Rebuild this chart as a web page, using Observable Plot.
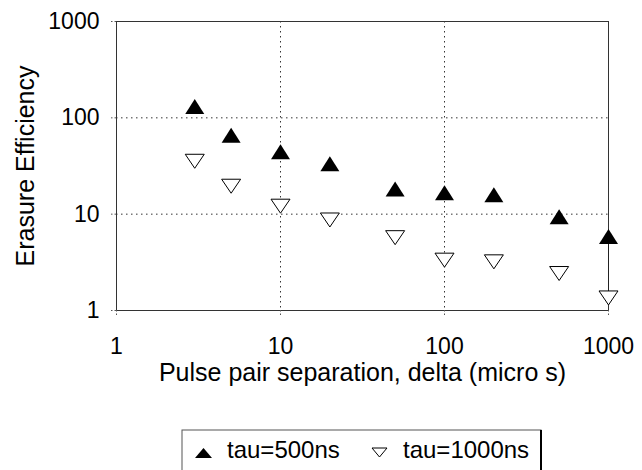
<!DOCTYPE html>
<html>
<head>
<meta charset="utf-8">
<script src="https://cdn.jsdelivr.net/npm/d3@7"></script>
<script src="https://cdn.jsdelivr.net/npm/@observablehq/plot@0.6"></script>
<style>
  html, body { margin: 0; padding: 0; background: white; }
  #chart { width: 642px; height: 470px; overflow: hidden; }
</style>
</head>
<body>
<div id="chart"></div>
<script>
// ---- data ----
const delta = [3, 5, 10, 20, 50, 100, 200, 500, 1000];
const eff500 = [131, 66, 44.5, 33.3, 18.2, 16.7, 15.9, 9.4, 5.85];
const eff1000 = [35.4, 19.5, 12.1, 8.7, 5.7, 3.33, 3.2, 2.42, 1.35];
const seriesNames = ["tau=500ns", "tau=1000ns"];
const xTicks = [1, 10, 100, 1000];
const yTicks = [1, 10, 100, 1000];
const xGrid = [10, 100];
const yGrid = [10, 100];
const xLabel = "Pulse pair separation, delta (micro s)";
const yLabel = "Erasure Efficiency";

const data500 = delta.map((d, i) => ({delta: d, eff: eff500[i]}));
const data1000 = delta.map((d, i) => ({delta: d, eff: eff1000[i]}));
const lastPair = [{delta: delta[delta.length - 1], y1: eff500[eff500.length - 1], y2: eff1000[eff1000.length - 1]}];

function triangle(w, h, down) {
  return {
    draw(context) {
      const s = down ? -1 : 1;
      context.moveTo(0, -s * h / 2);
      context.lineTo(w / 2, s * h / 2);
      context.lineTo(-w / 2, s * h / 2);
      context.closePath();
    }
  };
}

const font = "'Liberation Sans', Arial, Helvetica, sans-serif";
const dotted = "1.5,3.5";

const plot = Plot.plot({
  width: 642,
  height: 470,
  marginLeft: 116,
  marginRight: 34,
  marginTop: 21,
  marginBottom: 160,
  style: {fontFamily: font, background: "white", color: "black", overflow: "visible"},
  x: {type: "log", domain: [1, 1000]},
  y: {type: "log", domain: [1, 1000]},
  marks: [
    Plot.ruleX(xGrid, {stroke: "#333", strokeDasharray: dotted, strokeWidth: 1}),
    Plot.ruleY(yGrid, {stroke: "#333", strokeDasharray: dotted, strokeWidth: 1}),
    Plot.frame({stroke: "#333", strokeWidth: 1}),
    Plot.axisX(xTicks, {tickSize: 6, tickPadding: 21, tickFormat: d => String(d), fontSize: 23, label: null, stroke: "#555", strokeDasharray: "1.5,2"}),
    Plot.axisY(yTicks, {tickSize: 5, tickPadding: 12, tickFormat: d => String(d), fontSize: 23, label: null, stroke: "#555", strokeDasharray: "1.5,2"}),
    Plot.text([xLabel], {frameAnchor: "bottom", dy: 70, lineAnchor: "bottom", textAnchor: "middle", fontSize: 25}),
    Plot.text([yLabel], {frameAnchor: "left", dx: -83, rotate: -90, lineAnchor: "bottom", textAnchor: "middle", fontSize: 25}),
    Plot.ruleX(lastPair, {x: "delta", y1: "y1", y2: "y2", stroke: "#222", strokeWidth: 1}),
    Plot.dot(data500, {x: "delta", y: "eff", symbol: triangle(19, 15, false), fill: "black", stroke: "none"}),
    Plot.dot(data1000, {x: "delta", y: "eff", symbol: triangle(19, 14, true), fill: "white", stroke: "black", strokeWidth: 1})
  ]
});

document.getElementById("chart").appendChild(plot);

// ---- legend (below the plot, inside the same svg) ----
const svg = d3.select(plot);
const lg = svg.append("g").attr("font-family", font).attr("font-size", 24).attr("text-anchor", "start");
lg.append("rect").attr("x", 182).attr("y", 430).attr("width", 359).attr("height", 70)
  .attr("fill", "white").attr("stroke", "#555").attr("stroke-width", 1);
lg.append("line").attr("x1", 541).attr("x2", 541).attr("y1", 430).attr("y2", 472)
  .attr("stroke", "black").attr("stroke-width", 2);
const path = (cx, cy, w, h, down) => {
  const s = down ? -1 : 1;
  return `M${cx},${cy - s * h / 2}L${cx + w / 2},${cy + s * h / 2}L${cx - w / 2},${cy + s * h / 2}Z`;
};
lg.append("path").attr("d", path(203.5, 453, 17, 10, false)).attr("fill", "black");
lg.append("text").attr("x", 227).attr("y", 458).text(seriesNames[0]);
lg.append("path").attr("d", path(379.5, 452.5, 15, 9, true)).attr("fill", "white").attr("stroke", "black").attr("stroke-width", 1);
lg.append("text").attr("x", 403).attr("y", 458).text(seriesNames[1]);
</script>
</body>
</html>
